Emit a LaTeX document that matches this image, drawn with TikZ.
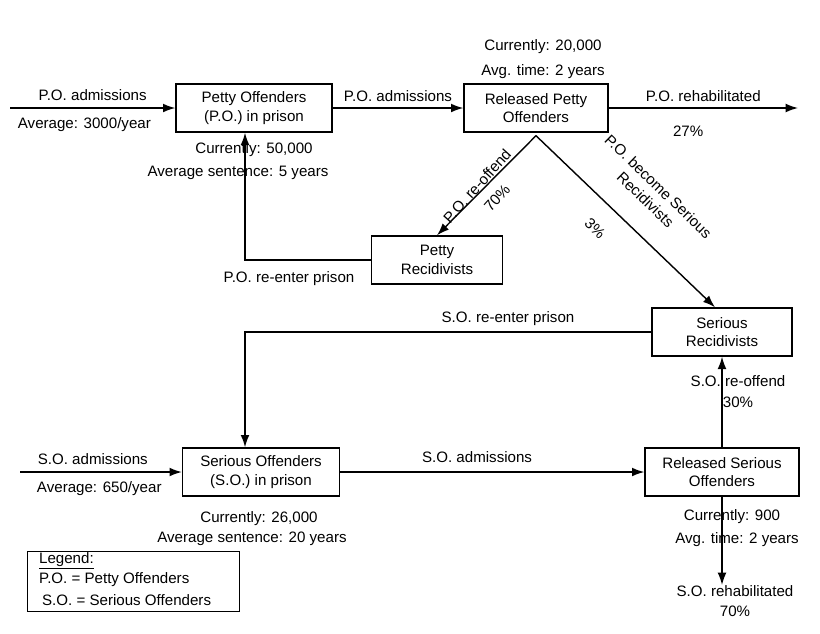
\documentclass[tikz,border=0pt]{standalone}
\usepackage{fontspec}
\setmainfont{Liberation Sans}
\usetikzlibrary{arrows.meta,positioning}
\tikzset{
  box/.style={draw,thick,align=center,minimum height=48\pxu,inner sep=1pt},
  flow/.style={thick,-{Latex[length=7pt,width=5pt]}},
  lbl/.style={inner sep=1pt,align=center}
}
\newlength{\pxu}\setlength{\pxu}{0.2mm}
\begin{document}
\begin{tikzpicture}[x=0.02cm,y=-0.02cm,font=\fontsize{8.6}{10.5}\selectfont]
        \useasboundingbox (0,0) rectangle (820,633);

        % Draw the boxes
        \node[box,minimum width=156\pxu] (po) at (254,108) {Petty Offenders\\(P.O.) in prison};
        \node[box,minimum width=144\pxu] (rpo) at (536,108) {Released Petty\\Offenders};
        \node[box,minimum width=131\pxu] (pr) at (437,260) {Petty\\Recidivists};
        \node[box,minimum width=140\pxu] (sr) at (722,332) {Serious\\Recidivists};
        \node[box,minimum width=157\pxu] (so) at (261,472) {Serious Offenders\\(S.O.) in prison};
        \node[box,minimum width=154\pxu] (rso) at (722,472) {Released Serious\\Offenders};

        % Draw the free ends
        \coordinate (poin) at (10,108);
        \coordinate (poout) at (798,108);
        \coordinate (soin) at (20,472);
        \coordinate (soout) at (722,585);

        % Draw the petty flows
        \draw[flow] (poin) -- (po) node[lbl,pos=0.5,above=3pt] {P.O. admissions} node[lbl,pos=0.45,below=4pt] {Average: 3000/year};
        \draw[flow] (po) -- (rpo) node[lbl,midway,above=2pt] {P.O. admissions};
        \draw[flow] (rpo) -- (poout) node[lbl,pos=0.5,above=2pt] {P.O. rehabilitated} node[lbl,pos=0.42,below=9pt] {27\%};
        \draw[flow] (rpo.south) ++(0,3) coordinate (rpos) -- (pr.north);
        \draw[flow] (rpos) -- ([xshift=-7\pxu]sr.north);
        \draw[flow] (pr.west) -| ([xshift=-9\pxu]po.south);

        % Draw the serious flows
        \draw[flow] (sr.west) -| ([xshift=-16\pxu]so.north);
        \draw[flow] (soin) -- (so) node[lbl,pos=0.45,above=3pt] {S.O. admissions} node[lbl,pos=0.49,below=4pt] {Average: 650/year};
        \draw[flow] (so) -- (rso) node[lbl,pos=0.45,above=4pt] {S.O. admissions};
        \draw[flow] (rso) -- (sr);
        \draw[flow] (rso) -- (soout);

        % Draw the rotated labels
        \node[lbl,rotate=48] at (477,186) {P.O. re-offend};
        \node[lbl,rotate=48] at (497,198) {70\%};
        \node[lbl,rotate=-44,align=center] at (652,193) {P.O. become Serious\\Recidivists};
        \node[lbl,rotate=-44] at (595,228) {3\%};

        % Draw the other labels
        \node[lbl] at (543,47) {Currently: 20,000};
        \node[lbl] at (543,72) {Avg. time: 2 years};
        \node[lbl] at (254,150) {Currently: 50,000};
        \node[lbl] at (238,173) {Average sentence: 5 years};
        \node[lbl] at (289,279) {P.O. re-enter prison};
        \node[lbl] at (508,319) {S.O. re-enter prison};
        \node[lbl] at (738,381) {S.O. re-offend};
        \node[lbl] at (738,402) {30\%};
        \node[lbl] at (259,519) {Currently: 26,000};
        \node[lbl] at (252,539) {Average sentence: 20 years};
        \node[lbl] at (732,517) {Currently: 900};
        \node[lbl] at (737,540) {Avg. time: 2 years};
        \node[lbl] at (735,591) {S.O. rehabilitated};
        \node[lbl] at (735,611) {70\%};

        % Draw the legend
        \draw (27,551) rectangle (239,611);
        \node[lbl,anchor=west] at (37,561) {\underline{Legend:}};
        \node[lbl,anchor=west] at (37,580) {P.O. = Petty Offenders};
        \node[lbl,anchor=west] at (40,600) {S.O. = Serious Offenders};
\end{tikzpicture}
\end{document}
